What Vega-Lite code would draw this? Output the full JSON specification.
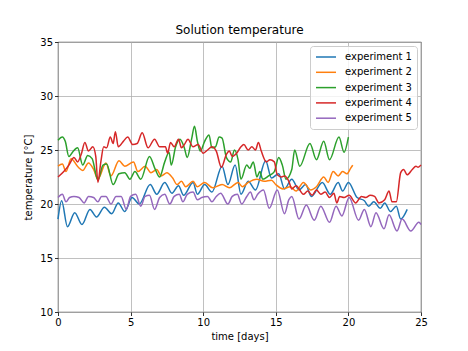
{
"$schema": "https://vega.github.io/schema/vega-lite/v6.json",
"width": 363, "height": 270,
"autosize": {"type": "none"},
"padding": {"left": 58, "top": 42, "right": 47, "bottom": 39},
"background": "white",
"title": {"text": "Solution temperature", "fontSize": 12, "fontWeight": "normal", "font": "DejaVu Sans", "offset": 0, "color": "black"},
"config": {"view": {"stroke": "black", "strokeWidth": 0.8}, "font": "DejaVu Sans"},
"data": {"values": [
{"series":"experiment 1","day":0,"temp":18.6},{"series":"experiment 1","day":0.25,"temp":20.3},{"series":"experiment 1","day":0.65,"temp":17.9},{"series":"experiment 1","day":1.15,"temp":19.2},{"series":"experiment 1","day":1.65,"temp":18.1},{"series":"experiment 1","day":2.2,"temp":19.5},{"series":"experiment 1","day":2.65,"temp":18.8},{"series":"experiment 1","day":3.2,"temp":19.7},{"series":"experiment 1","day":3.7,"temp":19.1},{"series":"experiment 1","day":4.15,"temp":20.1},{"series":"experiment 1","day":4.6,"temp":19.3},{"series":"experiment 1","day":5.1,"temp":20.6},{"series":"experiment 1","day":5.6,"temp":20.0},{"series":"experiment 1","day":6.35,"temp":21.8},{"series":"experiment 1","day":6.8,"temp":20.9},{"series":"experiment 1","day":7.35,"temp":22.0},{"series":"experiment 1","day":7.85,"temp":21.0},{"series":"experiment 1","day":8.3,"temp":21.7},{"series":"experiment 1","day":8.65,"temp":20.8},{"series":"experiment 1","day":9.3,"temp":22.0},{"series":"experiment 1","day":9.6,"temp":20.9},{"series":"experiment 1","day":10.1,"temp":21.8},{"series":"experiment 1","day":10.6,"temp":21.1},{"series":"experiment 1","day":11.3,"temp":23.5},{"series":"experiment 1","day":11.7,"temp":21.8},{"series":"experiment 1","day":12.2,"temp":23.6},{"series":"experiment 1","day":12.6,"temp":20.9},{"series":"experiment 1","day":13.1,"temp":22.1},{"series":"experiment 1","day":13.6,"temp":21.3},{"series":"experiment 1","day":14.3,"temp":24.0},{"series":"experiment 1","day":14.7,"temp":22.4},{"series":"experiment 1","day":15.2,"temp":22.8},{"series":"experiment 1","day":15.6,"temp":21.4},{"series":"experiment 1","day":16.1,"temp":22.3},{"series":"experiment 1","day":16.6,"temp":21.3},{"series":"experiment 1","day":17.05,"temp":21.8},{"series":"experiment 1","day":17.45,"temp":20.7},{"series":"experiment 1","day":18.2,"temp":22.0},{"series":"experiment 1","day":18.75,"temp":20.9},{"series":"experiment 1","day":19.3,"temp":22.0},{"series":"experiment 1","day":19.6,"temp":21.2},{"series":"experiment 1","day":20.0,"temp":22.0},{"series":"experiment 1","day":20.6,"temp":20.6},{"series":"experiment 1","day":21.1,"temp":20.3},{"series":"experiment 1","day":21.4,"temp":19.8},{"series":"experiment 1","day":21.75,"temp":20.2},{"series":"experiment 1","day":22.2,"temp":19.6},{"series":"experiment 1","day":22.5,"temp":20.1},{"series":"experiment 1","day":22.9,"temp":19.3},{"series":"experiment 1","day":23.3,"temp":19.8},{"series":"experiment 1","day":23.6,"temp":18.6},{"series":"experiment 1","day":24.05,"temp":19.5},
{"series":"experiment 2","day":0,"temp":23.5},{"series":"experiment 2","day":0.3,"temp":23.7},{"series":"experiment 2","day":0.55,"temp":23.0},{"series":"experiment 2","day":0.9,"temp":24.2},{"series":"experiment 2","day":1.4,"temp":23.4},{"series":"experiment 2","day":1.7,"temp":23.1},{"series":"experiment 2","day":2.1,"temp":23.8},{"series":"experiment 2","day":2.45,"temp":23.2},{"series":"experiment 2","day":2.75,"temp":22.3},{"series":"experiment 2","day":3.3,"temp":23.8},{"series":"experiment 2","day":3.65,"temp":22.6},{"series":"experiment 2","day":4.2,"temp":24.0},{"series":"experiment 2","day":4.6,"temp":23.5},{"series":"experiment 2","day":5.2,"temp":23.9},{"series":"experiment 2","day":5.5,"temp":23.0},{"series":"experiment 2","day":6.0,"temp":23.5},{"series":"experiment 2","day":6.4,"temp":22.9},{"series":"experiment 2","day":6.8,"temp":23.2},{"series":"experiment 2","day":7.1,"temp":22.6},{"series":"experiment 2","day":7.5,"temp":22.9},{"series":"experiment 2","day":7.9,"temp":22.4},{"series":"experiment 2","day":8.2,"temp":21.8},{"series":"experiment 2","day":8.5,"temp":22.1},{"series":"experiment 2","day":8.8,"temp":21.6},{"series":"experiment 2","day":9.3,"temp":22.1},{"series":"experiment 2","day":9.6,"temp":21.6},{"series":"experiment 2","day":10.1,"temp":22.0},{"series":"experiment 2","day":10.65,"temp":21.5},{"series":"experiment 2","day":11.3,"temp":21.8},{"series":"experiment 2","day":11.8,"temp":21.5},{"series":"experiment 2","day":12.4,"temp":22.0},{"series":"experiment 2","day":12.7,"temp":21.6},{"series":"experiment 2","day":13.1,"temp":22.0},{"series":"experiment 2","day":13.7,"temp":22.3},{"series":"experiment 2","day":14.2,"temp":22.1},{"series":"experiment 2","day":14.7,"temp":22.2},{"series":"experiment 2","day":15.0,"temp":21.8},{"series":"experiment 2","day":15.5,"temp":21.4},{"series":"experiment 2","day":16.0,"temp":21.6},{"series":"experiment 2","day":16.4,"temp":21.2},{"series":"experiment 2","day":16.9,"temp":22.0},{"series":"experiment 2","day":17.4,"temp":21.3},{"series":"experiment 2","day":17.8,"temp":21.6},{"series":"experiment 2","day":18.3,"temp":22.5},{"series":"experiment 2","day":18.6,"temp":22.0},{"series":"experiment 2","day":18.95,"temp":23.0},{"series":"experiment 2","day":19.3,"temp":22.6},{"series":"experiment 2","day":19.6,"temp":23.0},{"series":"experiment 2","day":19.9,"temp":22.8},{"series":"experiment 2","day":20.15,"temp":23.3},{"series":"experiment 2","day":20.3,"temp":23.6},
{"series":"experiment 3","day":0,"temp":25.9},{"series":"experiment 3","day":0.3,"temp":26.2},{"series":"experiment 3","day":0.5,"temp":25.8},{"series":"experiment 3","day":0.75,"temp":24.4},{"series":"experiment 3","day":1.0,"temp":24.8},{"series":"experiment 3","day":1.35,"temp":25.2},{"series":"experiment 3","day":1.7,"temp":23.6},{"series":"experiment 3","day":2.05,"temp":24.5},{"series":"experiment 3","day":2.35,"temp":24.2},{"series":"experiment 3","day":2.75,"temp":22.2},{"series":"experiment 3","day":3.1,"temp":23.6},{"series":"experiment 3","day":3.35,"temp":23.7},{"series":"experiment 3","day":3.8,"temp":21.8},{"series":"experiment 3","day":4.2,"temp":22.8},{"series":"experiment 3","day":4.6,"temp":22.9},{"series":"experiment 3","day":4.95,"temp":22.3},{"series":"experiment 3","day":5.3,"temp":23.0},{"series":"experiment 3","day":5.7,"temp":22.3},{"series":"experiment 3","day":6.3,"temp":24.4},{"series":"experiment 3","day":6.7,"temp":23.2},{"series":"experiment 3","day":7.0,"temp":22.5},{"series":"experiment 3","day":7.35,"temp":23.9},{"series":"experiment 3","day":7.65,"temp":24.8},{"series":"experiment 3","day":7.8,"temp":23.6},{"series":"experiment 3","day":8.1,"temp":25.3},{"series":"experiment 3","day":8.4,"temp":26.0},{"series":"experiment 3","day":8.7,"temp":25.2},{"series":"experiment 3","day":8.9,"temp":24.3},{"series":"experiment 3","day":9.2,"temp":26.0},{"series":"experiment 3","day":9.4,"temp":27.2},{"series":"experiment 3","day":9.6,"temp":25.8},{"series":"experiment 3","day":9.8,"temp":24.9},{"series":"experiment 3","day":10.1,"temp":25.8},{"series":"experiment 3","day":10.4,"temp":26.4},{"series":"experiment 3","day":10.6,"temp":25.2},{"series":"experiment 3","day":10.85,"temp":25.3},{"series":"experiment 3","day":11.1,"temp":26.2},{"series":"experiment 3","day":11.3,"temp":26.1},{"series":"experiment 3","day":11.6,"temp":24.3},{"series":"experiment 3","day":11.9,"temp":23.9},{"series":"experiment 3","day":12.15,"temp":25.0},{"series":"experiment 3","day":12.4,"temp":24.1},{"series":"experiment 3","day":12.6,"temp":22.3},{"series":"experiment 3","day":13.0,"temp":23.6},{"series":"experiment 3","day":13.2,"temp":23.3},{"series":"experiment 3","day":13.45,"temp":23.9},{"series":"experiment 3","day":13.7,"temp":22.5},{"series":"experiment 3","day":13.9,"temp":23.0},{"series":"experiment 3","day":14.1,"temp":22.3},{"series":"experiment 3","day":14.5,"temp":22.6},{"series":"experiment 3","day":14.9,"temp":23.0},{"series":"experiment 3","day":15.2,"temp":24.3},{"series":"experiment 3","day":15.45,"temp":23.6},{"series":"experiment 3","day":15.7,"temp":22.3},{"series":"experiment 3","day":16.1,"temp":23.2},{"series":"experiment 3","day":16.3,"temp":25.0},{"series":"experiment 3","day":16.65,"temp":23.5},{"series":"experiment 3","day":17.35,"temp":25.6},{"series":"experiment 3","day":17.8,"temp":24.1},{"series":"experiment 3","day":18.3,"temp":25.8},{"series":"experiment 3","day":18.7,"temp":24.1},{"series":"experiment 3","day":19.35,"temp":26.2},{"series":"experiment 3","day":19.7,"temp":24.8},{"series":"experiment 3","day":20.0,"temp":26.2},
{"series":"experiment 4","day":0,"temp":22.5},{"series":"experiment 4","day":0.4,"temp":23.0},{"series":"experiment 4","day":0.75,"temp":23.6},{"series":"experiment 4","day":1.1,"temp":24.3},{"series":"experiment 4","day":1.35,"temp":23.9},{"series":"experiment 4","day":1.6,"temp":24.6},{"series":"experiment 4","day":1.85,"temp":25.7},{"series":"experiment 4","day":2.1,"temp":24.9},{"series":"experiment 4","day":2.4,"temp":25.3},{"series":"experiment 4","day":2.6,"temp":24.4},{"series":"experiment 4","day":2.75,"temp":22.0},{"series":"experiment 4","day":2.95,"temp":23.9},{"series":"experiment 4","day":3.15,"temp":25.3},{"series":"experiment 4","day":3.35,"temp":25.2},{"series":"experiment 4","day":3.6,"temp":26.2},{"series":"experiment 4","day":3.8,"temp":25.6},{"series":"experiment 4","day":3.95,"temp":26.7},{"series":"experiment 4","day":4.15,"temp":25.3},{"series":"experiment 4","day":4.5,"temp":25.8},{"series":"experiment 4","day":4.8,"temp":26.2},{"series":"experiment 4","day":5.15,"temp":25.5},{"series":"experiment 4","day":5.45,"temp":25.6},{"series":"experiment 4","day":5.8,"temp":26.6},{"series":"experiment 4","day":6.2,"temp":25.2},{"series":"experiment 4","day":6.65,"temp":26.0},{"series":"experiment 4","day":7.0,"temp":25.3},{"series":"experiment 4","day":7.4,"temp":25.3},{"series":"experiment 4","day":7.55,"temp":24.7},{"series":"experiment 4","day":7.75,"temp":25.7},{"series":"experiment 4","day":8.0,"temp":25.3},{"series":"experiment 4","day":8.3,"temp":26.0},{"series":"experiment 4","day":8.5,"temp":25.2},{"series":"experiment 4","day":8.7,"temp":25.5},{"series":"experiment 4","day":8.95,"temp":26.0},{"series":"experiment 4","day":9.3,"temp":25.3},{"series":"experiment 4","day":9.65,"temp":25.5},{"series":"experiment 4","day":10.0,"temp":24.7},{"series":"experiment 4","day":10.3,"temp":25.0},{"series":"experiment 4","day":10.6,"temp":25.3},{"series":"experiment 4","day":10.9,"temp":24.9},{"series":"experiment 4","day":11.25,"temp":23.4},{"series":"experiment 4","day":11.6,"temp":24.6},{"series":"experiment 4","day":11.8,"temp":24.9},{"series":"experiment 4","day":12.0,"temp":24.4},{"series":"experiment 4","day":12.3,"temp":24.7},{"series":"experiment 4","day":12.6,"temp":25.3},{"series":"experiment 4","day":12.8,"temp":25.5},{"series":"experiment 4","day":13.1,"temp":25.0},{"series":"experiment 4","day":13.35,"temp":25.3},{"series":"experiment 4","day":13.6,"temp":25.0},{"series":"experiment 4","day":13.8,"temp":25.7},{"series":"experiment 4","day":14.0,"temp":24.9},{"series":"experiment 4","day":14.35,"temp":23.9},{"series":"experiment 4","day":14.6,"temp":24.1},{"series":"experiment 4","day":14.9,"temp":23.9},{"series":"experiment 4","day":15.1,"temp":22.7},{"series":"experiment 4","day":15.4,"temp":22.5},{"series":"experiment 4","day":15.6,"temp":22.6},{"series":"experiment 4","day":15.9,"temp":22.1},{"series":"experiment 4","day":16.1,"temp":21.4},{"series":"experiment 4","day":16.4,"temp":21.7},{"series":"experiment 4","day":16.9,"temp":20.9},{"series":"experiment 4","day":17.2,"temp":21.2},{"series":"experiment 4","day":17.5,"temp":20.8},{"series":"experiment 4","day":17.8,"temp":21.3},{"series":"experiment 4","day":18.1,"temp":20.9},{"series":"experiment 4","day":18.4,"temp":21.1},{"series":"experiment 4","day":18.7,"temp":20.6},{"series":"experiment 4","day":19.0,"temp":21.0},{"series":"experiment 4","day":19.2,"temp":20.1},{"series":"experiment 4","day":19.4,"temp":20.7},{"series":"experiment 4","day":19.7,"temp":20.6},{"series":"experiment 4","day":20.05,"temp":20.8},{"series":"experiment 4","day":20.5,"temp":20.1},{"series":"experiment 4","day":20.9,"temp":20.7},{"series":"experiment 4","day":21.2,"temp":20.6},{"series":"experiment 4","day":21.5,"temp":20.8},{"series":"experiment 4","day":21.8,"temp":20.7},{"series":"experiment 4","day":22.1,"temp":20.1},{"series":"experiment 4","day":22.5,"temp":20.4},{"series":"experiment 4","day":22.8,"temp":21.2},{"series":"experiment 4","day":23.0,"temp":20.2},{"series":"experiment 4","day":23.3,"temp":20.2},{"series":"experiment 4","day":23.6,"temp":22.9},{"series":"experiment 4","day":23.8,"temp":23.2},{"series":"experiment 4","day":24.05,"temp":22.7},{"series":"experiment 4","day":24.4,"temp":23.2},{"series":"experiment 4","day":24.65,"temp":23.5},{"series":"experiment 4","day":24.8,"temp":23.4},{"series":"experiment 4","day":25.0,"temp":23.6},
{"series":"experiment 5","day":0,"temp":20.6},{"series":"experiment 5","day":0.3,"temp":20.9},{"series":"experiment 5","day":0.55,"temp":20.2},{"series":"experiment 5","day":0.8,"temp":20.6},{"series":"experiment 5","day":1.1,"temp":20.7},{"series":"experiment 5","day":1.45,"temp":20.6},{"series":"experiment 5","day":1.8,"temp":20.1},{"series":"experiment 5","day":2.1,"temp":20.7},{"series":"experiment 5","day":2.45,"temp":20.6},{"series":"experiment 5","day":2.75,"temp":20.2},{"series":"experiment 5","day":3.0,"temp":20.7},{"series":"experiment 5","day":3.3,"temp":20.7},{"series":"experiment 5","day":3.65,"temp":20.0},{"series":"experiment 5","day":4.0,"temp":20.7},{"series":"experiment 5","day":4.35,"temp":20.7},{"series":"experiment 5","day":4.7,"temp":19.5},{"series":"experiment 5","day":5.0,"temp":20.7},{"series":"experiment 5","day":5.35,"temp":20.9},{"series":"experiment 5","day":5.7,"temp":19.8},{"series":"experiment 5","day":6.0,"temp":20.7},{"series":"experiment 5","day":6.3,"temp":20.8},{"series":"experiment 5","day":6.65,"temp":19.5},{"series":"experiment 5","day":7.0,"temp":20.6},{"series":"experiment 5","day":7.35,"temp":20.9},{"series":"experiment 5","day":7.7,"temp":20.0},{"series":"experiment 5","day":8.0,"temp":20.7},{"series":"experiment 5","day":8.35,"temp":20.9},{"series":"experiment 5","day":8.6,"temp":20.2},{"series":"experiment 5","day":8.9,"temp":20.9},{"series":"experiment 5","day":9.3,"temp":21.1},{"series":"experiment 5","day":9.6,"temp":20.4},{"series":"experiment 5","day":9.9,"temp":20.6},{"series":"experiment 5","day":10.3,"temp":20.7},{"series":"experiment 5","day":10.6,"temp":20.2},{"series":"experiment 5","day":10.9,"temp":20.7},{"series":"experiment 5","day":11.2,"temp":21.0},{"series":"experiment 5","day":11.7,"temp":20.0},{"series":"experiment 5","day":12.0,"temp":20.7},{"series":"experiment 5","day":12.35,"temp":20.9},{"series":"experiment 5","day":12.65,"temp":20.0},{"series":"experiment 5","day":13.0,"temp":20.7},{"series":"experiment 5","day":13.25,"temp":21.1},{"series":"experiment 5","day":13.5,"temp":20.4},{"series":"experiment 5","day":13.75,"temp":20.9},{"series":"experiment 5","day":14.15,"temp":21.3},{"series":"experiment 5","day":14.55,"temp":19.6},{"series":"experiment 5","day":15.1,"temp":21.3},{"series":"experiment 5","day":15.6,"temp":19.1},{"series":"experiment 5","day":15.9,"temp":20.4},{"series":"experiment 5","day":16.1,"temp":20.7},{"series":"experiment 5","day":16.6,"temp":18.6},{"series":"experiment 5","day":17.1,"temp":19.9},{"series":"experiment 5","day":17.65,"temp":18.5},{"series":"experiment 5","day":18.1,"temp":19.8},{"series":"experiment 5","day":18.7,"temp":18.3},{"series":"experiment 5","day":19.15,"temp":19.8},{"series":"experiment 5","day":19.55,"temp":18.9},{"series":"experiment 5","day":20.05,"temp":20.6},{"series":"experiment 5","day":20.7,"temp":18.5},{"series":"experiment 5","day":21.1,"temp":19.5},{"series":"experiment 5","day":21.55,"temp":17.9},{"series":"experiment 5","day":21.9,"temp":19.2},{"series":"experiment 5","day":22.45,"temp":17.7},{"series":"experiment 5","day":22.8,"temp":19.0},{"series":"experiment 5","day":23.35,"temp":17.5},{"series":"experiment 5","day":23.7,"temp":18.6},{"series":"experiment 5","day":24.3,"temp":17.5},{"series":"experiment 5","day":24.85,"temp":18.3},{"series":"experiment 5","day":25.0,"temp":18.1}
]},
"mark": {"type": "line", "strokeWidth": 1.5, "interpolate": "monotone"},
"encoding": {
"x": {"field": "day", "type": "quantitative", "scale": {"domain": [0, 25], "nice": false, "zero": false},
 "axis": {"title": "time [days]", "values": [0,5,10,15,20,25], "grid": true, "gridColor": "#b0b0b0", "gridWidth": 0.8, "domain": false, "tickColor": "black", "tickSize": 3.5, "tickWidth": 0.8, "labelFontSize": 10, "labelColor": "black", "labelFont": "DejaVu Sans", "titleFont": "DejaVu Sans", "titleFontSize": 10, "titleFontWeight": "normal", "titleColor": "black", "labelPadding": 2, "titlePadding": 4, "labelFlush": false}},
"y": {"field": "temp", "type": "quantitative", "scale": {"domain": [10, 35], "nice": false, "zero": false},
 "axis": {"title": "temperature [°C]", "values": [10,15,20,25,30,35], "grid": true, "gridColor": "#b0b0b0", "gridWidth": 0.8, "domain": false, "tickColor": "black", "tickSize": 3.5, "tickWidth": 0.8, "labelFontSize": 10, "labelColor": "black", "labelFont": "DejaVu Sans", "titleFont": "DejaVu Sans", "titleFontSize": 10, "titleFontWeight": "normal", "titleColor": "black", "labelPadding": 2, "titlePadding": 6, "labelFlush": false}},
"color": {"field": "series", "type": "nominal",
 "scale": {"domain": ["experiment 1","experiment 2","experiment 3","experiment 4","experiment 5"], "range": ["#1f77b4","#ff7f0e","#2ca02c","#d62728","#9467bd"]},
 "legend": {"title": null, "orient": "top-right", "offset": 4, "padding": 5, "strokeColor": "#cccccc", "fillColor": "rgba(255,255,255,0.8)", "cornerRadius": 3, "symbolType": "M-1,0H3", "symbolSize": 100, "symbolStrokeWidth": 1.5, "labelFontSize": 10, "labelFont": "DejaVu Sans", "labelColor": "black", "labelOffset": 18, "rowPadding": 4.3}}
}
}
